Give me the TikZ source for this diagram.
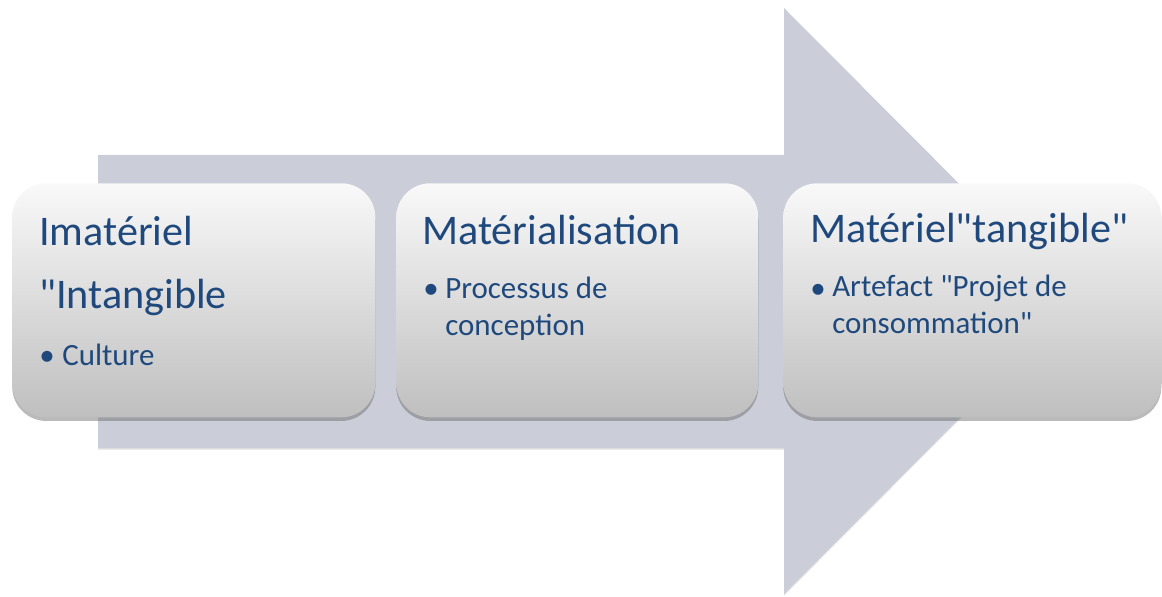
\documentclass[tikz,border=0pt]{standalone}
\usepackage{fontspec}
\setmainfont{Carlito}[Ligatures=TeXOff]
\usepackage{xcolor}
\usepackage{tikz}
\usetikzlibrary{positioning,shadows}
\definecolor{arrowgray}{RGB}{203,206,216}
\definecolor{stagetop}{RGB}{249,249,249}
\definecolor{stagemid}{RGB}{228,228,228}
\definecolor{stagebottom}{RGB}{191,191,191}
\definecolor{stageblue}{RGB}{31,73,125}

\begin{document}
\begin{tikzpicture}[x=0.025cm, y=-0.025cm,
    stage/.style={rectangle, rounded corners=0.85cm, inner sep=0pt,
        top color=stagetop, middle color=stagemid, bottom color=stagebottom,
        drop shadow={shadow xshift=0pt, shadow yshift=-0.09cm, opacity=0.45, fill=black!60}},
    title/.style={anchor=base west, inner sep=0pt, text=stageblue,
        font=\fontsize{30}{44.8}\selectfont, align=left},
    item/.style={anchor=base west, inner sep=0pt, text=stageblue,
        font=\fontsize{22}{26.3}\selectfont, align=left},
    dot/.style={anchor=base west, inner sep=0pt, text=stageblue,
        font=\fontsize{22}{26.3}\selectfont},
]
    \useasboundingbox (0,0) rectangle (1162,597);
    % Arrow
    \fill[arrowgray, drop shadow={shadow xshift=0pt, shadow yshift=-0.04cm, opacity=0.25}]
        (98,155) -- (784,155) -- (784,8) -- (1076,301) -- (784,594)
        -- (784,448) -- (98,448) -- cycle;
    % Stages
    \foreach \i/\xa/\xb in {1/12/375, 2/396/758, 3/783/1161} {
        \pgfmathsetmacro{\w}{(\xb-\xa)*0.025}
        \node[stage, minimum width=\w cm, minimum height=5.85cm, anchor=north west]
            (box\i) at (\xa,183) {};
    }
    % base of a two-line node is its last line
    \node[title] (t1) at (39,308) {Imatériel\\"Intangible};
    \node[dot] (d1) at (39,365) {\textbullet};
    \node[item] (i1) at (62,365) {Culture};

    \node[title] (t2) at (422,244) {Matérialisation};
    \node[dot] (d2) at (423,298) {\textbullet};
    \node[item] (i2) at (445,335) {Processus de\\conception};

    \node[title] (t3) at (810,242) {Matériel"tangible"};
    \node[dot] (d3) at (810,298) {\textbullet};
    \node[item] (i3) at (832,333) {Artefact "Projet de\\consommation"};
\end{tikzpicture}
\end{document}
